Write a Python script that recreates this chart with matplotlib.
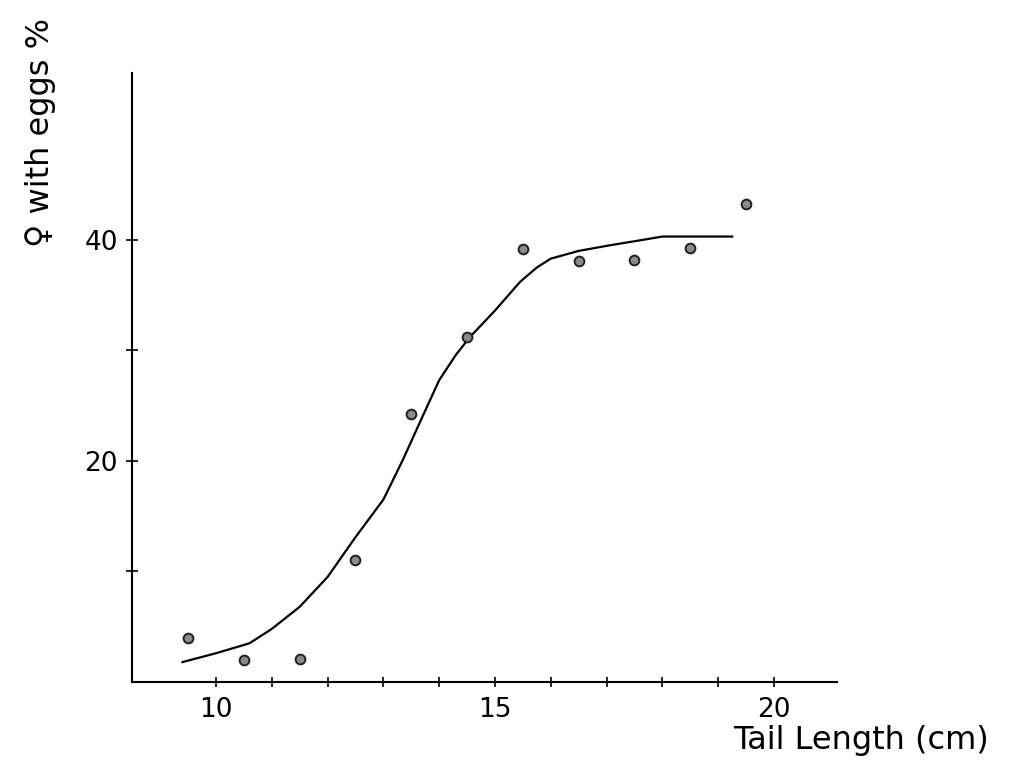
import numpy as np
import matplotlib.pyplot as plt

# data
tail_length = [9.5, 10.5, 11.5, 12.5, 13.5, 14.5, 15.5, 16.5, 17.5, 18.5, 19.5]
pct_eggs = [4.0, 2.0, 2.1, 11.0, 24.2, 31.2, 39.2, 38.1, 38.2, 39.3, 43.2]

# fitted curve (hand drawn in the original)
curve_x = [9.4, 10.0, 10.6, 11.0, 11.5, 12.0, 12.5, 13.0, 13.35, 13.7, 14.0, 14.3, 14.55,
           15.0, 15.45, 15.75, 16.0, 16.5, 17.05, 17.65, 18.0, 18.55, 19.25]
curve_y = [1.8, 2.6, 3.5, 4.8, 6.8, 9.5, 13.1, 16.5, 20.1, 24.0, 27.3, 29.6, 31.2,
           33.6, 36.2, 37.5, 38.3, 39.0, 39.5, 40.0, 40.3, 40.3, 40.3]

x_ticks = [10, 11, 12, 13, 14, 15, 16, 17, 18, 19, 20]
x_labels = ['10', '', '', '', '', '15', '', '', '', '', '20']
y_ticks = [10, 20, 30, 40]
y_labels = ['', '20', '', '40']

fig = plt.figure(figsize=(10.1, 7.68), dpi=100)
ax = fig.add_axes([0.1307, 0.112, 0.698, 0.793])

ax.plot(curve_x, curve_y, color='black', lw=1.6)
ax.plot(tail_length, pct_eggs, 'o', ms=7, mfc='#8a8a8a', mec='#202020', mew=1.4)

ax.set_xlim(8.495, 21.13)
ax.set_ylim(0, 55.1)
ax.set_xticks(x_ticks)
ax.set_xticklabels(x_labels)
ax.set_yticks(y_ticks)
ax.set_yticklabels(y_labels)

for s in ['top', 'right']:
    ax.spines[s].set_visible(False)
for s in ['left', 'bottom']:
    ax.spines[s].set_linewidth(1.5)

ax.tick_params(axis='both', direction='inout', width=1.2, labelsize=19, colors='black')
ax.tick_params(axis='x', length=7, pad=7)
ax.tick_params(axis='y', length=8, pad=6)

fig.text(861 / 1010, 1 - 740 / 768, 'Tail Length (cm)', fontsize=23,
         ha='center', va='center')
fig.text(41 / 1010, 1 - 247 / 768, '\u2640 with eggs %', fontsize=23,
         rotation=90, ha='center', va='bottom')

plt.savefig('out.png', dpi=100)
